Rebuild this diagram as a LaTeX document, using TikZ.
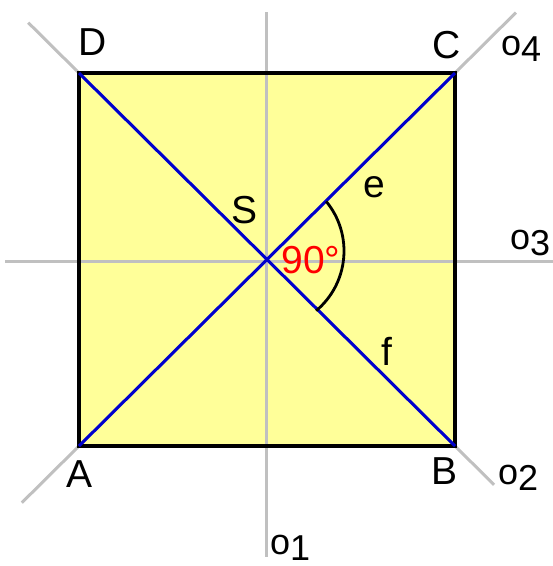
\documentclass[tikz,border=0pt]{standalone}
\usepackage{fontspec}
\setmainfont{Liberation Sans}
\usetikzlibrary{calc,positioning}
\definecolor{sqfill}{RGB}{255,255,153}
\definecolor{axgray}{RGB}{192,192,192}
\definecolor{diagblue}{RGB}{0,0,204}
\tikzset{
  axis/.style={
    draw = axgray,
    line width = 3pt
  },
  diag/.style={
    draw = diagblue,
    line width = 3pt
  },
  side/.style={
    draw = black,
    line width = 3.5pt
  },
  vertex/.style={
    anchor = base,
    inner sep = 0pt,
    font = \fontsize{39}{39}\selectfont
  },
  olab/.style={
    anchor = base west,
    inner sep = 0pt,
    font = \fontsize{36}{36}\selectfont
  },
}
\newcommand{\osub}[1]{o\raisebox{-6pt}{#1}}

\begin{document}
\begin{tikzpicture}[x=1pt,y=-1pt]
  \useasboundingbox (0,0) rectangle (553,566);
  \coordinate (A) at (79,446);
  \coordinate (B) at (455,446);
  \coordinate (C) at (455,73);
  \coordinate (D) at (79,73);
  \coordinate (S) at (266.5,259.5);
  % ends of the axes
  \coordinate (o1a) at (266,12);
  \coordinate (o1b) at (266,557);
  \coordinate (o3a) at (5,261);
  \coordinate (o3b) at (553,261);
  \coordinate (o4a) at ($(C)!-0.162!(A)$);
  \coordinate (o4b) at ($(A)!-0.152!(C)$);
  \coordinate (o2a) at ($(B)!-0.104!(D)$);
  \coordinate (o2b) at ($(D)!-0.135!(B)$);
  \fill[sqfill] (A) rectangle (C);
  \draw[axis] (o1a) -- (o1b);
  \draw[axis] (o3a) -- (o3b);
  \draw[axis] (o4a) -- (o4b);
  \draw[axis] (o2a) -- (o2b);
  \draw[side] (A) -- (B) -- (C) -- (D) -- cycle;
  \draw[diag] (A) -- (C);
  \draw[diag] (D) -- (B);
  % right angle
  \draw[line width=2.8pt] ($(266,251)+(-39.5:78)$) arc[start angle=-39.5, end angle=50, radius=78];
  \node[vertex] (lA) at (80,487) {A};
  \node[vertex] (lB) at (445,484) {B};
  \node[vertex] (lC) at (447,58) {C};
  \node[vertex] (lD) at (93,55) {D};
  \node[vertex] (lS) at (245,223) {S};
  \node[vertex] (le) at (374,197) {e};
  \node[vertex] (lf) at (387,365) {f};
  \node[vertex, text=red] (lang) at (311,273) {90°};
  \node[olab] (lo1) at (270,554) {\osub{1}};
  \node[olab] (lo2) at (498,484) {\osub{2}};
  \node[olab] (lo3) at (510,249) {\osub{3}};
  \node[olab] (lo4) at (501,55) {\osub{4}};
\end{tikzpicture}
\end{document}
